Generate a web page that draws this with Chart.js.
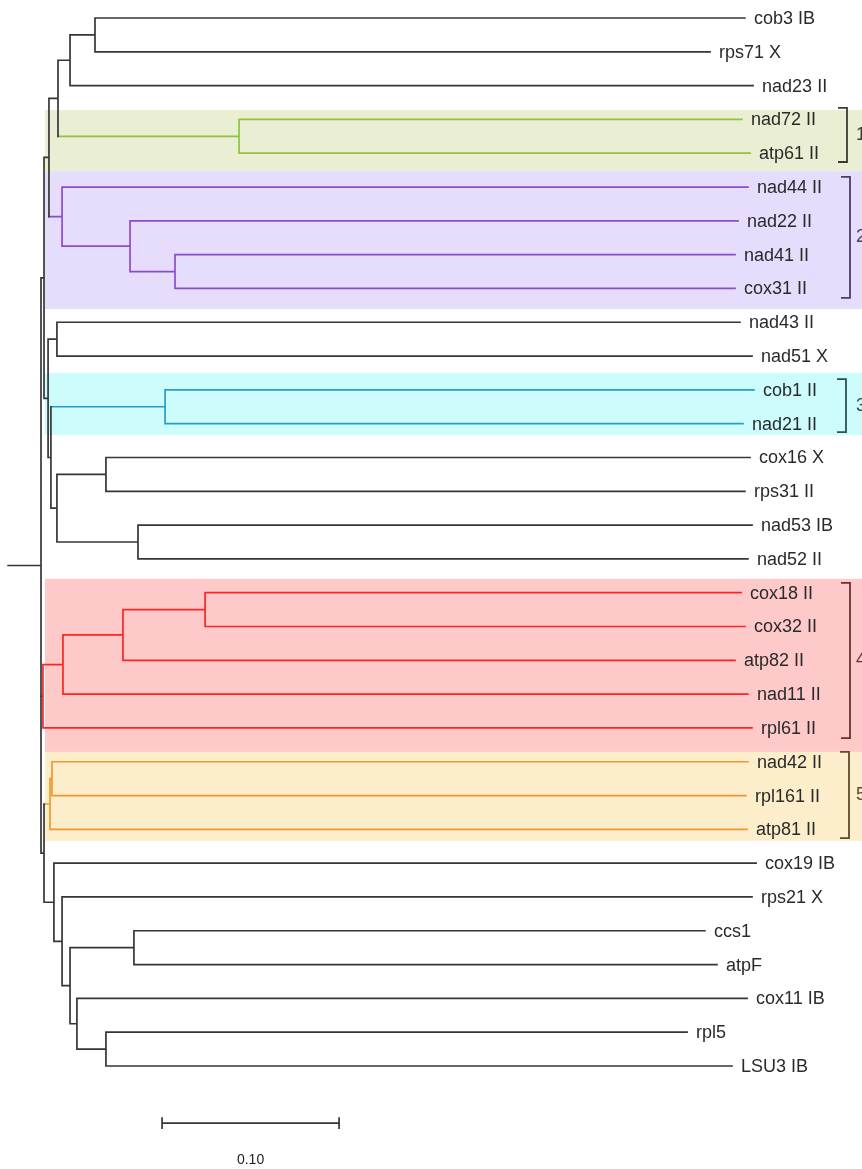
<!DOCTYPE html>
<html>
<head>
<meta charset="utf-8">
<script src="https://cdn.jsdelivr.net/npm/chart.js@4/dist/chart.umd.min.js"></script>
<style>
html,body{margin:0;padding:0;background:#fff;}
#wrap{width:862px;height:1169px;}
canvas{display:block;}
</style>
</head>
<body>
<div id="wrap"><canvas id="c" width="862" height="1169"></canvas></div>
<script>
// ---------- DATA ----------
// tip labels, top to bottom
const leafNames = ['cob3 IB','rps71 X','nad23 II','nad72 II','atp61 II','nad44 II','nad22 II','nad41 II','cox31 II',
  'nad43 II','nad51 X','cob1 II','nad21 II','cox16 X','rps31 II','nad53 IB','nad52 II',
  'cox18 II','cox32 II','atp82 II','nad11 II','rpl61 II','nad42 II','rpl161 II','atp81 II',
  'cox19 IB','rps21 X','ccs1','atpF','cox11 IB','rpl5','LSU3 IB'];
// distance of each tip from the root (substitutions per site)
const leafDepths = [0.3977,0.3780,0.4023,0.3960,0.4006,0.3994,0.3938,0.3921,0.3921,
  0.3949,0.4017,0.4028,0.3966,0.4006,0.3977,0.4017,0.3994,
  0.3955,0.3977,0.3921,0.3994,0.4017,0.3994,0.3983,0.3989,
  0.4040,0.4017,0.3751,0.3819,0.3989,0.3650,0.3904];
// internal nodes
const nodeNames  = ['root','E','D','C','B','A','G1','G2','P2','P3','F','Gn','H','G3','I','J','K',
  'G4','R2','R3','R4','L','G5','O2','M','N','P','Q','S','T'];
const nodeDepths = [0,0.0017,0.0045,0.0096,0.0164,0.0305,0.1119,0.0119,0.0503,0.0757,0.0040,0.0090,0.0056,0.0701,0.0090,0.0367,0.0548,
  0.0011,0.0124,0.0463,0.0927,0.0017,0.0051,0.0062,0.0073,0.0119,0.0164,0.0525,0.0203,0.0367];
const nodeChildren = [
  ['E','G4','L'], ['D','F'], ['C','G2'], ['B','G1'], ['A','nad23 II'], ['cob3 IB','rps71 X'],
  ['nad72 II','atp61 II'], ['nad44 II','P2'], ['nad22 II','P3'], ['nad41 II','cox31 II'],
  ['Gn','H'], ['nad43 II','nad51 X'], ['G3','I'], ['cob1 II','nad21 II'], ['J','K'],
  ['cox16 X','rps31 II'], ['nad53 IB','nad52 II'],
  ['R2','rpl61 II'], ['R3','nad11 II'], ['R4','atp82 II'], ['cox18 II','cox32 II'],
  ['G5','M'], ['O2','atp81 II'], ['nad42 II','rpl161 II'], ['cox19 IB','N'], ['rps21 X','P'],
  ['Q','S'], ['ccs1','atpF'], ['cox11 IB','T'], ['rpl5','LSU3 IB']];
// highlighted groups
const groupLabels = ['1','2','3','4','5'];
const groupRoots  = ['G1','G2','G3','G4','G5'];
const scaleBarValue = 0.10;
const scaleBarText = '0.10';

// ---------- STYLE / LAYOUT ----------
const groupLine  = ['#8cc640','#8a4ccc','#2a9ccc','#ff2424','#f0982e'];
const groupFill  = ['#eaeed2','#e6dcfc','#ccfcfc','#fec9c9','#fdeecb'];
const groupBrk   = ['#3b3b30','#4a3c6c','#2e5050','#6a3036','#5a4a30'];
const groupBox   = [[2.72,4.53],[4.53,8.61],[10.50,12.34],[16.59,21.71],[21.71,24.34]];
const groupBrkY  = [[2.66,4.26],[4.70,8.28],[10.68,12.25],[16.71,21.30],[21.71,24.26]];
const groupBrkX  = [847,850,846,850,849];
const rootStub = -0.0186;
const scaleBarStart = 0.0684, scaleBarY = 32.69, scaleTextY = 33.78;
const X0 = 41, PXU = 1770;           // pixel of root, pixels per unit
const Y0 = 18, PXL = 33.806;         // pixel of first leaf, pixels per leaf

// ---------- build tree geometry ----------
const info = {};
leafNames.forEach((n,i)=>{ info[n] = {d:leafDepths[i], y:i, leaf:true}; });
nodeNames.forEach((n,i)=>{ info[n] = {d:nodeDepths[i], kids:nodeChildren[i], leaf:false}; });
function yOf(n){ const o=info[n]; if(o.y!==undefined) return o.y;
  const ys=o.kids.map(yOf); o.y=(ys[0]+ys[ys.length-1])/2; return o.y; }
yOf('root');
function colorize(n,c){ info[n].color=c; if(!info[n].leaf) info[n].kids.forEach(k=>colorize(k,c)); }
colorize('root','#363636');
groupRoots.forEach((g,i)=>colorize(g,groupLine[i]));

const segs = {};
function addSeg(c,x1,y1,x2,y2){ (segs[c]=segs[c]||[]).push({x:x1,y:y1},{x:x2,y:y2},{x:x2,y:null}); }
nodeNames.forEach(n=>{
  const o=info[n];
  const ys=o.kids.map(k=>info[k].y);
  addSeg(o.color,o.d,ys[0],o.d,ys[ys.length-1]);
  o.kids.forEach(k=>addSeg(info[k].color,o.d,info[k].y,info[k].d,info[k].y));
});
addSeg('#363636',rootStub,info.root.y,0,info.root.y);
// scale bar
addSeg('#363636',scaleBarStart,scaleBarY,scaleBarStart+scaleBarValue,scaleBarY);
addSeg('#363636',scaleBarStart,scaleBarY-0.15,scaleBarStart,scaleBarY+0.15);
addSeg('#363636',scaleBarStart+scaleBarValue,scaleBarY-0.15,scaleBarStart+scaleBarValue,scaleBarY+0.15);

const datasets = Object.keys(segs).map(c=>({data:segs[c],borderColor:c,borderWidth:1.7,pointRadius:0,
  showLine:true,spanGaps:false,borderCapStyle:'square',fill:false}));

const decor = {
  id:'decor',
  beforeDatasetsDraw(chart){
    const ctx=chart.ctx, ys=chart.scales.y;
    ctx.save();
    groupBox.forEach((b,i)=>{
      const t=ys.getPixelForValue(b[0]), bt=ys.getPixelForValue(b[1]);
      ctx.fillStyle=groupFill[i];
      ctx.fillRect(45,t,862-45,bt-t);
    });
    ctx.restore();
  },
  afterDatasetsDraw(chart){
    const ctx=chart.ctx, xs=chart.scales.x, ys=chart.scales.y;
    ctx.save();
    ctx.font='18px "Liberation Sans", Arial, sans-serif';
    ctx.fillStyle='#2a2a2a';
    ctx.textBaseline='middle';
    ctx.textAlign='left';
    leafNames.forEach((n,i)=>{
      ctx.fillText(n, xs.getPixelForValue(leafDepths[i])+9, ys.getPixelForValue(i)+1);
    });
    // brackets
    groupLabels.forEach((lab,i)=>{
      const t=ys.getPixelForValue(groupBrkY[i][0]), b=ys.getPixelForValue(groupBrkY[i][1]);
      const x=groupBrkX[i];
      ctx.strokeStyle=groupBrk[i]; ctx.lineWidth=1.8;
      ctx.beginPath(); ctx.moveTo(x-9,t); ctx.lineTo(x,t); ctx.lineTo(x,b); ctx.lineTo(x-9,b); ctx.stroke();
      ctx.fillStyle=groupBrk[i];
      ctx.fillText(lab, 856, (t+b)/2);
    });
    // scale text
    ctx.font='14px "Liberation Sans", Arial, sans-serif';
    ctx.fillStyle='#222';
    ctx.textAlign='center';
    ctx.fillText(scaleBarText, xs.getPixelForValue(scaleBarStart+scaleBarValue/2), ys.getPixelForValue(scaleTextY));
    ctx.restore();
  }
};

new Chart(document.getElementById('c'),{
  type:'scatter',
  data:{datasets},
  options:{
    responsive:false, animation:false, devicePixelRatio:1,
    layout:{padding:0},
    plugins:{legend:{display:false},tooltip:{enabled:false}},
    scales:{
      x:{type:'linear',display:false,min:-X0/PXU,max:(862-X0)/PXU},
      y:{type:'linear',display:false,reverse:true,min:-Y0/PXL,max:(1169-Y0)/PXL}
    }
  },
  plugins:[decor]
});
</script>
</body>
</html>
